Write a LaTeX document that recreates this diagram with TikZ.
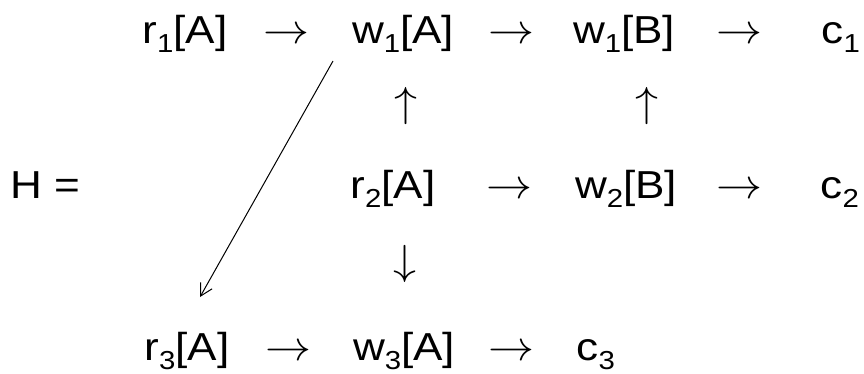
\documentclass[tikz,border=0pt]{standalone}
\usepackage{graphicx}
\usepackage{fontspec}
\setmainfont{Liberation Sans}
\usetikzlibrary{arrows.meta}
\newcommand{\sbs}[1]{\raisebox{-9pt}{\fontsize{26}{26}\selectfont #1}}
\newcommand{\tx}[1]{\scalebox{1.13}[1]{\fontsize{39}{46}\selectfont #1}}
\newcommand{\bigglyph}[1]{\scalebox{4.6}[4.2]{\normalsize$#1$}}
\tikzset{
  term/.style={anchor=base west, inner sep=0pt, outer sep=0pt},
  harr/.style={anchor=base west, inner sep=0pt, outer sep=0pt},
  varr/.style={anchor=base, inner sep=0pt, outer sep=0pt},
  diag/.style={line width=1pt, -{Straight Barb[length=12pt,width=13pt]}}
}
\begin{document}
\begin{tikzpicture}[x=1pt,y=-1pt]
\useasboundingbox (0,0) rectangle (864,373);
% row 1
\node[term] (r1A) at (142.5,43) {\tx{r\sbs{1}[A]}};
\node[harr] (a11) at (263,43) {\bigglyph{\rightarrow}};
\node[term] (w1A) at (352,43) {\tx{w\sbs{1}[A]}};
\node[harr] (a12) at (488,43) {\bigglyph{\rightarrow}};
\node[term] (w1B) at (573,43) {\tx{w\sbs{1}[B]}};
\node[harr] (a13) at (716,43) {\bigglyph{\rightarrow}};
\node[term] (c1) at (821.5,43) {\tx{c\sbs{1}}};
% vertical arrows
\node[varr] (u1) at (406,116) {\bigglyph{\uparrow}};
\node[varr] (u2) at (647,116) {\bigglyph{\uparrow}};
% row 2
\node[term] (H) at (10,198) {\tx{H =}};
\node[term] (r2A) at (350.5,198) {\tx{r\sbs{2}[A]}};
\node[harr] (a21) at (486,198) {\bigglyph{\rightarrow}};
\node[term] (w2B) at (575,198) {\tx{w\sbs{2}[B]}};
\node[harr] (a22) at (716,198) {\bigglyph{\rightarrow}};
\node[term] (c2) at (820.5,198) {\tx{c\sbs{2}}};
\node[varr] (d1) at (405,274) {\bigglyph{\downarrow}};
% row 3
\node[term] (r3A) at (144.5,360) {\tx{r\sbs{3}[A]}};
\node[harr] (a31) at (265,360) {\bigglyph{\rightarrow}};
\node[term] (w3A) at (353,360) {\tx{w\sbs{3}[A]}};
\node[harr] (a32) at (488,360) {\bigglyph{\rightarrow}};
\node[term] (c3) at (576.5,360) {\tx{c\sbs{3}}};
% diagonal connector
\draw[diag] ([shift={(-19,18)}]w1A.base west) -- ([shift={(55.5,-63)}]r3A.base west);
\end{tikzpicture}
\end{document}
